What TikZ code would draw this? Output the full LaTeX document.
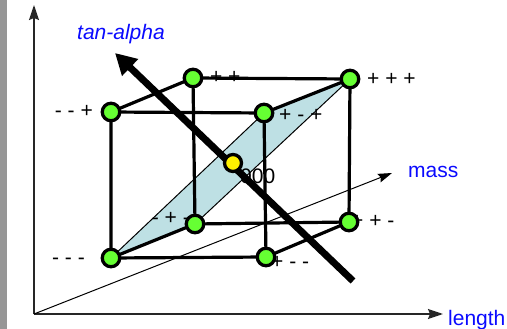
\documentclass[tikz,border=0pt]{standalone}
\usepackage{fontspec}
\setmainfont{Liberation Sans}
\usetikzlibrary{arrows.meta}
\definecolor{nodegreen}{RGB}{102,255,51}
\definecolor{planeblue}{RGB}{190,224,228}
\definecolor{lblblue}{RGB}{10,10,255}
\definecolor{stripgray}{RGB}{150,150,150}
\tikzset{
  vtx/.style={circle, draw=black, line width=3.3pt, fill=nodegreen, minimum size=17.5pt, inner sep=0pt},
  ctr/.style={circle, draw=black, line width=3.3pt, fill=yellow, minimum size=17pt, inner sep=0pt},
  lbl/.style={font=\fontsize{21}{25}\selectfont, inner sep=0pt},
  axlbl/.style={lbl, text=lblblue, anchor=base west},
  edge/.style={line width=3.2pt, black},
  axis/.style={line width=1.6pt, black!85, -{Stealth[length=15pt,width=10pt,inset=2pt]}},
  maxis/.style={line width=1pt, black, -{Stealth[length=14pt,width=9pt,inset=2pt]}},
  bigarrow/.style={line width=7pt, black, -{Triangle[length=21pt,width=22pt]}}
}
\begin{document}
\begin{tikzpicture}[x=1pt,y=-1pt]
\useasboundingbox (0,0) rectangle (507,329);
\fill[stripgray] (0,0) rectangle (7,329);
% axes
\coordinate (O) at (34,314);
\coordinate (ytip) at (34,5);
\coordinate (xtip) at (443,314);
\coordinate (mtip) at (392,173);
\draw[axis] (O) -- (ytip);
\draw[axis] (O) -- (xtip);
% vertex coordinates
\coordinate (mmm) at (111,258);
\coordinate (mmp) at (111,112);
\coordinate (mpp) at (193,78);
\coordinate (ppp) at (350,79);
\coordinate (pmp) at (264,113);
\coordinate (mpm) at (195,224);
\coordinate (ppm) at (349,222);
\coordinate (pmm) at (266,257);
\coordinate (ctrc) at (233,163);
% plane
\filldraw[fill=planeblue, draw=black, line width=1pt] (mmm) -- (mpm) -- (ppp) -- (pmp) -- cycle;
% cube edges
\draw[edge] (mmp) -- (pmp) -- (pmm) -- (mmm) -- cycle;
\draw[edge] (mpp) -- (ppp) -- (ppm) -- (mpm) -- cycle;
\draw[edge] (mmp) -- (mpp);
\draw[edge] (pmp) -- (ppp);
\draw[edge] (mmm) -- (mpm);
\draw[edge] (pmm) -- (ppm);
% mass axis
\draw[maxis] (O) -- (mtip);
% labels
\node[lbl, anchor=base east] (lmmp) at (93,118) {- - +};
\node[lbl, anchor=base west] (lmpp) at (197,84) {- + +};
\node[lbl, anchor=base west] (lppp) at (367,86) {+ + +};
\node[lbl, anchor=base west] (lpmp) at (279,122) {+ - +};
\node[lbl, anchor=base east] (lmmm) at (85,264) {- - -};
\node[lbl, anchor=base east] (lmpm) at (190,225) {- + -};
\node[lbl, anchor=base west] (lppm) at (351,228) {+ + -};
\node[lbl, anchor=base west] (lpmm) at (271,268) {+ - -};
% thick arrow
\coordinate (ta0) at (353,281);
\coordinate (ta1) at (115,53);
\draw[bigarrow] (ta0) -- (ta1);
\node[lbl, anchor=base west] (lctr) at (240,183) {000};
% vertices
\node[vtx] (nmmm) at (mmm) {};
\node[vtx] (nmmp) at (mmp) {};
\node[vtx] (nmpp) at (mpp) {};
\node[vtx] (nppp) at (ppp) {};
\node[vtx] (npmp) at (pmp) {};
\node[vtx] (nmpm) at (mpm) {};
\node[vtx] (nppm) at (ppm) {};
\node[vtx] (npmm) at (pmm) {};
\node[ctr] (nctr) at (ctrc) {};
% axis labels
\node[axlbl, font=\fontsize{21}{25}\selectfont\itshape] (ltan) at (77,40) {tan-alpha};
\node[axlbl] (lmass) at (408,178) {mass};
\node[axlbl] (llen) at (448,325) {length};
\end{tikzpicture}
\end{document}
